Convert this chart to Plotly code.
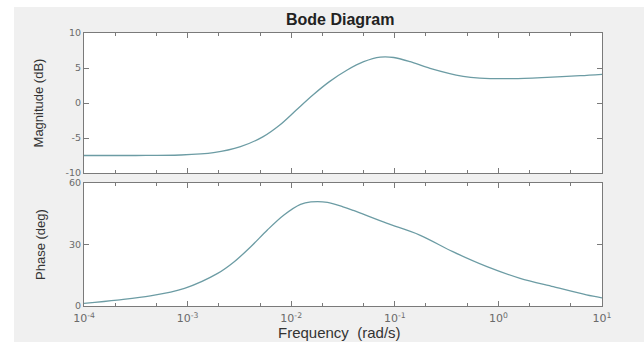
import plotly.graph_objects as go

# Magnitude data (rad/s, dB)
freq_mag = [1e-4, 3.16e-4, 8.51e-4, 1.78e-3, 3.24e-3, 5.37e-3, 7.76e-3, 1.12e-2, 1.62e-2,
            2.34e-2, 3.47e-2, 5.01e-2, 7.24e-2, 9.77e-2, 0.141, 0.219, 0.457, 0.661,
            1.38, 2.95, 6.17, 10.0]
mag_db = [-7.5, -7.5, -7.43, -7.1, -6.24, -4.8, -3.14, -1.0, 1.14,
          3.05, 4.71, 5.9, 6.55, 6.5, 5.9, 4.95, 3.8, 3.55,
          3.48, 3.66, 3.9, 4.1]

# Phase data (rad/s, deg)
freq_ph = [1e-4, 2.09e-4, 4.37e-4, 9.33e-4, 1.95e-3, 2.82e-3, 4.07e-3, 5.89e-3, 8.51e-3,
           1.23e-2, 1.55e-2, 2.24e-2, 3.16e-2, 3.98e-2, 8.32e-2, 0.174, 0.363, 0.776,
           1.62, 3.39, 7.08, 10.0]
phase_deg = [1.3, 2.9, 4.9, 8.6, 15.9, 21.6, 28.9, 37.1, 44.4,
             49.6, 50.8, 50.6, 48.4, 46.6, 40.4, 34.6, 26.5, 19.2,
             13.5, 9.4, 5.4, 4.0]

freq_ticks = [1e-4, 1e-3, 1e-2, 1e-1, 1, 10]
freq_labels = ["10<sup>-4</sup>", "10<sup>-3</sup>", "10<sup>-2</sup>",
               "10<sup>-1</sup>", "10<sup>0</sup>", "10<sup>1</sup>"]
mag_ticks = [-10, -5, 0, 5, 10]
mag_labels = ["-10", "-5", "0", "5", "10"]
phase_ticks = [0, 30, 60]
phase_labels = ["0", "30", "60"]

line_color = "#6c9ca4"
frame = "#7a7a7a"
FONT = "Liberation Sans, Arial, sans-serif"
tickfont = dict(family="DejaVu Sans, sans-serif", size=9.5, color="#6a6a6a")
xtickfont = dict(family="DejaVu Sans, sans-serif", size=11, color="#6a6a6a")

fig = go.Figure()
fig.add_trace(go.Scatter(x=freq_mag, y=mag_db, mode="lines",
                         line=dict(color=line_color, width=1.3, shape="spline", smoothing=0.9),
                         xaxis="x", yaxis="y", showlegend=False))
fig.add_trace(go.Scatter(x=freq_ph, y=phase_deg, mode="lines",
                         line=dict(color=line_color, width=1.3, shape="spline", smoothing=0.9),
                         xaxis="x2", yaxis="y2", showlegend=False))

common_x = dict(type="log", range=[-4, 1], tickvals=freq_ticks, ticktext=freq_labels,
                showgrid=False, zeroline=False,
                showline=True, linecolor=frame, linewidth=1, mirror="ticks",
                ticks="inside", ticklen=5, tickcolor=frame,
                minor=dict(ticks="inside", ticklen=3, tickcolor=frame, showgrid=False),
                tickfont=xtickfont)
common_y = dict(showgrid=False, zeroline=False, showline=True, linecolor=frame, linewidth=1,
                mirror="ticks", ticks="inside", ticklen=5, tickcolor=frame, tickfont=tickfont)

fig.update_layout(
    width=644, height=342,
    margin=dict(l=84, r=42, t=33, b=36),
    paper_bgcolor="#f0f0f0", plot_bgcolor="white",
    xaxis=dict(**common_x, domain=[0, 1], anchor="y", showticklabels=False),
    yaxis=dict(**common_y, domain=[0.4872, 1], range=[-10, 10], tickvals=mag_ticks,
               ticktext=mag_labels, anchor="x"),
    xaxis2=dict(**common_x, domain=[0, 1], anchor="y2", matches="x", ticklabelstandoff=2),
    yaxis2=dict(**common_y, domain=[0, 0.4505], range=[0, 60], tickvals=phase_ticks,
                ticktext=phase_labels, anchor="x2"),
    annotations=[
        dict(text="<b>Bode Diagram</b>", xref="paper", yref="paper", x=0.494, y=1.051,
             showarrow=False, xanchor="center", yanchor="middle",
             font=dict(family=FONT, size=16, color="#222")),
        dict(text="Magnitude (dB)", xref="paper", yref="paper", x=-0.086, y=0.7436,
             textangle=-90, showarrow=False, xanchor="center", yanchor="middle",
             font=dict(family=FONT, size=13, color="#333")),
        dict(text="Phase (deg)", xref="paper", yref="paper", x=-0.084, y=0.2253,
             textangle=-90, showarrow=False, xanchor="center", yanchor="middle",
             font=dict(family=FONT, size=13, color="#333")),
        dict(text="Frequency  (rad/s)", xref="paper", yref="paper", x=0.494, y=-0.098,
             showarrow=False, xanchor="center", yanchor="middle",
             font=dict(family=FONT, size=15, color="#333")),
    ],
    shapes=[
        dict(type="rect", xref="paper", yref="paper", x0=-0.17, x1=(14 - 84) / 518,
             y0=-0.2, y1=1.2, fillcolor="white", line=dict(width=0), layer="below"),
        dict(type="rect", xref="paper", yref="paper", x0=-0.17, x1=1.1,
             y0=(306 - 7) / 273, y1=1.2, fillcolor="white", line=dict(width=0), layer="below"),
    ],
)

fig.write_html("out.html")
